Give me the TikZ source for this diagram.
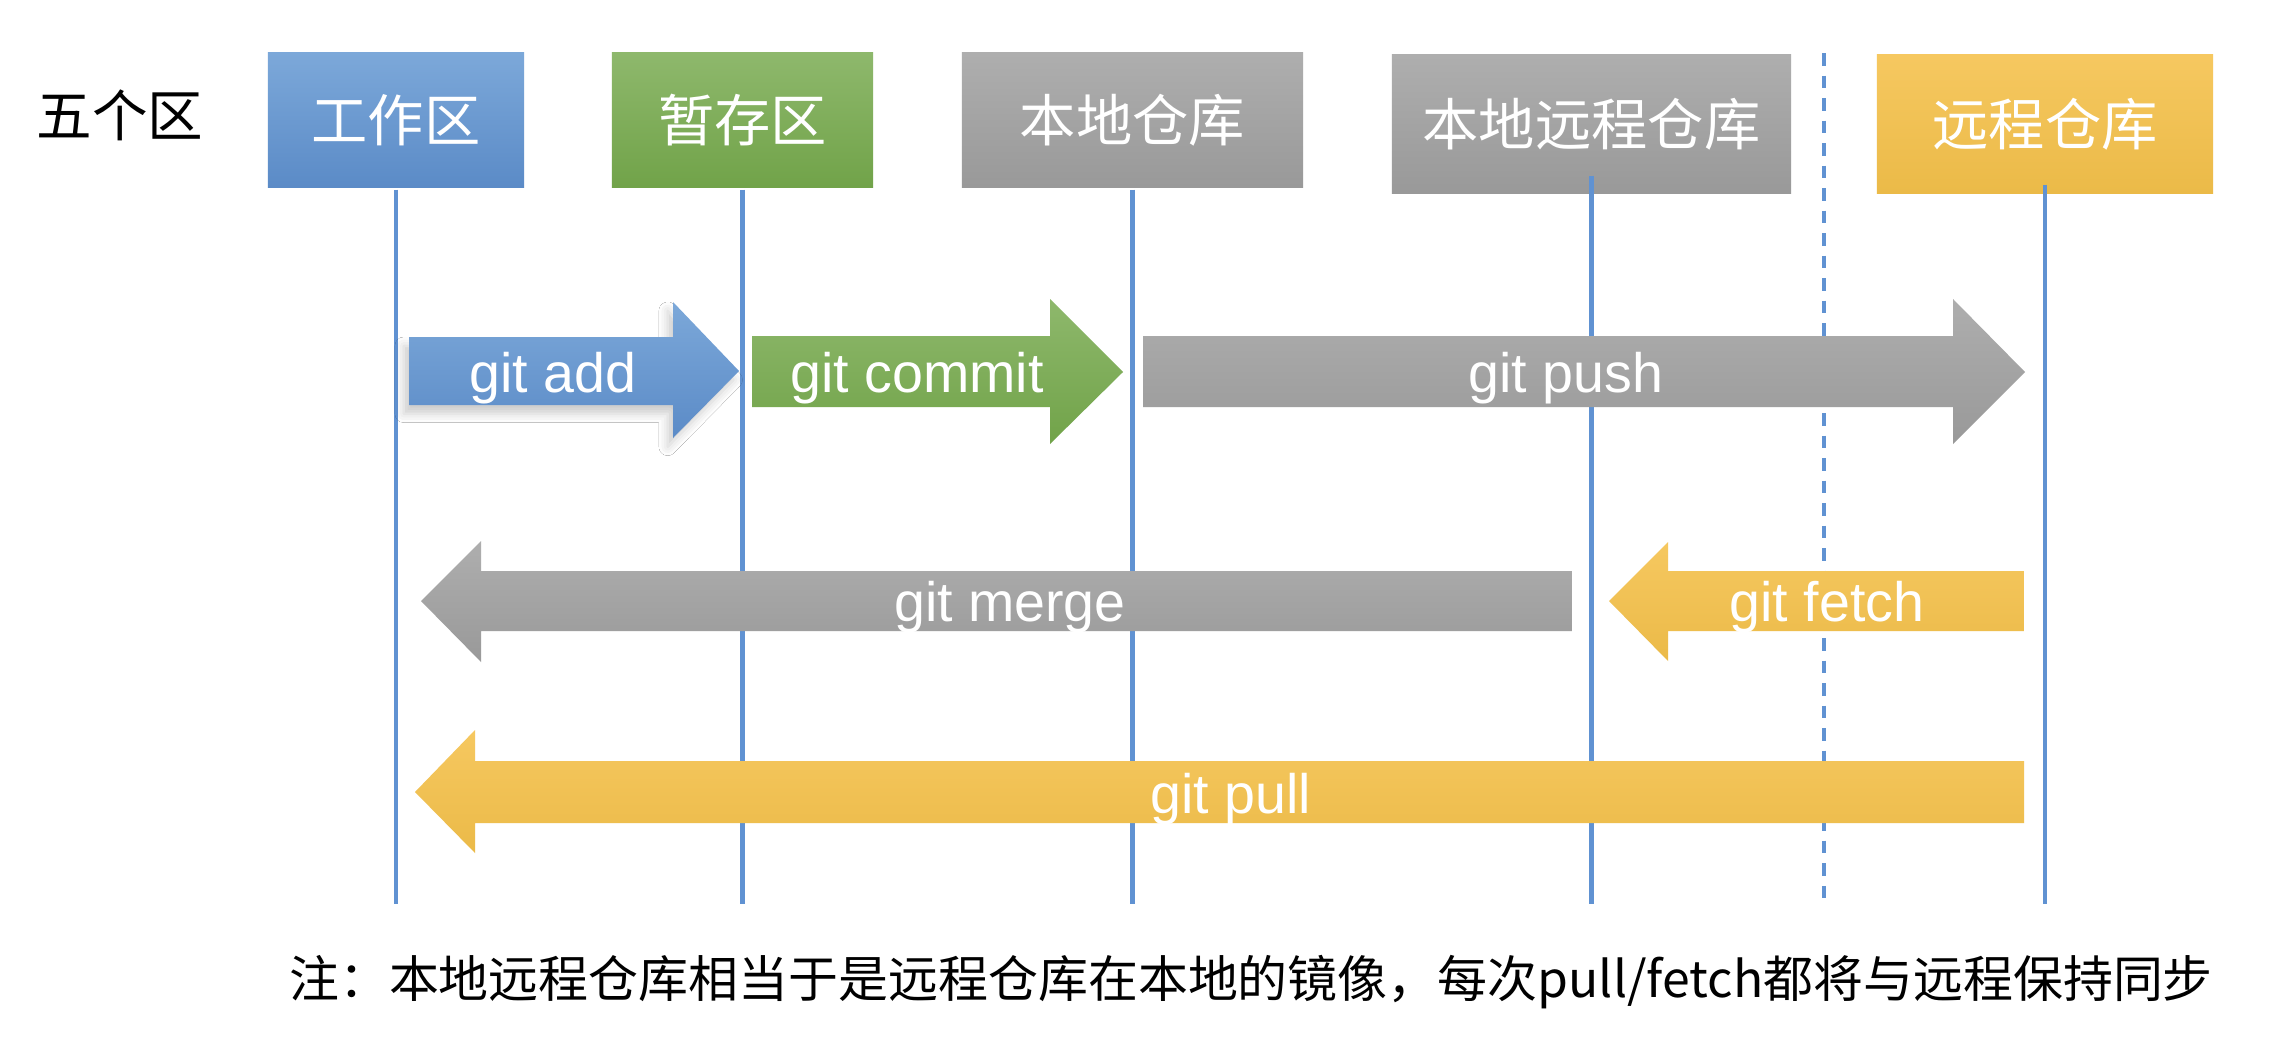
\documentclass[tikz,border=0pt]{standalone}
\usepackage{fontspec}
\setmainfont{Liberation Sans}
\newfontfamily\cjk{Noto Sans CJK SC}
\usetikzlibrary{calc,shadows.blur}
\definecolor{lineblue}{RGB}{96,146,210}
\definecolor{blueT}{RGB}{124,168,217}
\definecolor{blueB}{RGB}{91,139,199}
\definecolor{greenT}{RGB}{142,184,108}
\definecolor{greenB}{RGB}{113,163,73}
\definecolor{grayT}{RGB}{174,174,174}
\definecolor{grayB}{RGB}{153,153,153}
\definecolor{goldT}{RGB}{246,200,96}
\definecolor{goldB}{RGB}{235,186,72}
\begin{document}
\begin{tikzpicture}[x=0.01cm,y=-0.01cm,
  zone/.style={minimum height=1.34cm, inner sep=0pt, text=white, font=\cjk\fontsize{16}{19}\selectfont},
  lane/.style={draw=lineblue, line width=1.35pt},
  sepline/.style={draw=lineblue, line width=1pt, dash pattern=on 3.6pt off 2.8pt},
  lbl/.style={text=white, anchor=base, inner sep=0pt, font=\fontsize{15.8}{19}\selectfont},
  blueshade/.style={top color=blueT, bottom color=blueB},
  greenshade/.style={top color=greenT, bottom color=greenB},
  grayshade/.style={top color=grayT, bottom color=grayB},
  goldshade/.style={top color=goldT, bottom color=goldB}
]
\useasboundingbox (0,0) rectangle (2278,1054);
\fill[white] (0,0) rectangle (2278,1054);

% title
\node[font=\cjk\fontsize{15.8}{19}\selectfont, inner sep=0pt] (title) at (120,115) {五个区};

% zone boxes
\node[zone, blueshade, minimum width=2.56cm] (work) at (396,120) {工作区};
\node[zone, greenshade, minimum width=2.61cm] (stage) at (742.5,120) {暂存区};
\node[zone, grayshade, minimum width=3.41cm] (local) at (1132.5,120) {本地仓库};
\node[zone, grayshade, minimum width=3.99cm, minimum height=1.38cm] (lr) at (1591.5,124) {本地远程仓库};
\node[zone, goldshade, minimum width=3.36cm, minimum height=1.38cm] (remote) at (2045,124) {远程仓库};

% lanes
\coordinate (bot) at (0,904);
\draw[lane] ([yshift=-0.02cm]work.south) -- (work.south |- bot);
\draw[lane] ([yshift=-0.02cm]stage.south) -- (stage.south |- bot);
\draw[lane] ([yshift=-0.02cm]local.south) -- (local.south |- bot);
\draw[lane] ([yshift=0.18cm]lr.south) -- (lr.south |- bot);
\draw[lane] ([yshift=0.09cm]remote.south) -- (remote.south |- bot);
\coordinate (septop) at (1824,53);
\coordinate (sepbot) at (1824,904);
\draw[sepline] (septop) -- (sepbot);

% arrows
\shade[blueshade, blur shadow={shadow xshift=-1.5pt, shadow yshift=-2.5pt, shadow blur radius=2.5pt, shadow opacity=20}]
  (409,337) -- (673,337) -- (673,302) -- (739,371) -- (673,438) -- (673,405) -- (409,405) -- cycle;
\node[lbl] (add) at (553,392) {git add};

\shade[greenshade] (752,336) -- (1050,336) -- (1050,299) -- (1123,372) -- (1050,444) -- (1050,407) -- (752,407) -- cycle;
\node[lbl] (commit) at (917,392) {git commit};

\shade[grayshade] (1143,336) -- (1953,336) -- (1953,299) -- (2025,372) -- (1953,444) -- (1953,407) -- (1143,407) -- cycle;
\node[lbl] (push) at (1566,392) {git push};

\shade[grayshade] (1572,571) -- (481,571) -- (481,541) -- (421,601) -- (481,662) -- (481,631) -- (1572,631) -- cycle;
\node[lbl] (merge) at (1010,621) {git merge};

\shade[goldshade] (2024,571) -- (1668,571) -- (1668,542) -- (1609,601) -- (1668,661) -- (1668,631) -- (2024,631) -- cycle;
\node[lbl] (fetch) at (1827,621) {git fetch};

\shade[goldshade] (2024,761) -- (475,761) -- (475,730) -- (415,792) -- (475,853) -- (475,823) -- (2024,823) -- cycle;
\node[lbl] (pull) at (1231,813) {git pull};

% footnote
\node[font=\cjk\fontsize{14.2}{17}\selectfont, inner sep=0pt] (note) at (1251,982) {注：本地远程仓库相当于是远程仓库在本地的镜像，每次pull/fetch都将与远程保持同步};
\end{tikzpicture}
\end{document}
